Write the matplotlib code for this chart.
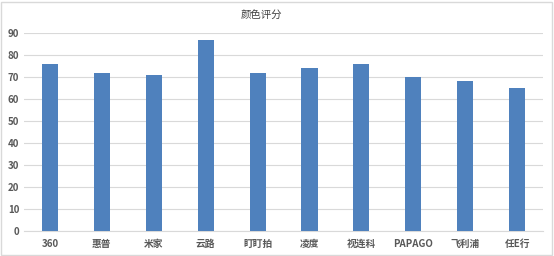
import matplotlib
matplotlib.use("Agg")
import matplotlib.pyplot as plt
import numpy as np

plt.rcParams['font.family'] = ['Noto Sans CJK SC', 'DejaVu Sans']

brands = ['360', '惠普', '米家', '云路', '盯盯拍', '凌度', '视连科', 'PAPAGO', '飞利浦', '任E行']
scores = [76, 72, 71, 87, 72, 74, 76, 70, 68, 65]
yticks = [0, 10, 20, 30, 40, 50, 60, 70, 80, 90]

fig = plt.figure(figsize=(5.54, 2.56), dpi=100)
ax = fig.add_axes([0.0433, 0.098, 0.937, 0.773])

x = np.arange(len(brands))
ax.bar(x, scores, width=0.31, color='#4f81bd', zorder=3)

ax.set_xlim(-0.5, len(brands) - 0.5)
ax.set_ylim(0, 90)
ax.set_yticks(yticks)
ax.set_xticks(x)
ax.set_xticklabels(brands)
ax.grid(axis='y', color='#d9d9d9', linewidth=0.8, zorder=0)
for s in ['top', 'right', 'left']:
    ax.spines[s].set_visible(False)
ax.spines['bottom'].set_color('#d9d9d9')
ax.tick_params(length=0, colors='#595959', labelsize=7)
ax.tick_params(axis='x', pad=6)
for lbl in ax.get_xticklabels() + ax.get_yticklabels():
    lbl.set_fontweight('bold')

fig.text(0.471, 0.943, '颜色评分', ha='center', va='center', fontsize=7.5, color='#404040')

# outer frame
fig.patches.append(plt.Rectangle((0.002, 0.004), 0.995, 0.99, transform=fig.transFigure,
                                 fill=False, edgecolor='#d9d9d9', linewidth=1))

fig.savefig('out.png', dpi=100)
